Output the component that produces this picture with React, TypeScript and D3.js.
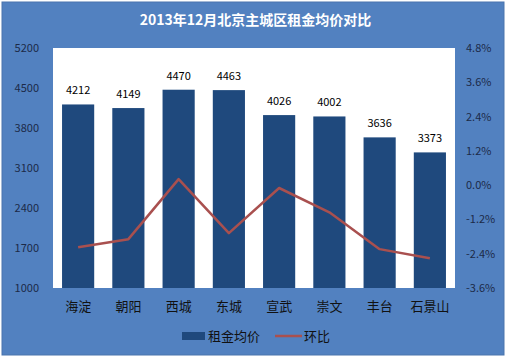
import { useEffect, useRef } from 'react'
import * as d3 from 'd3'

const TITLE = '2013年12月北京主城区租金均价对比'
const districts = ['海淀', '朝阳', '西城', '东城', '宣武', '崇文', '丰台', '石景山']
const avgRent = [4212, 4149, 4470, 4463, 4026, 4002, 3636, 3373]
const momPct = [-2.17, -1.89, 0.21, -1.68, -0.1, -0.95, -2.24, -2.56]
const leftTicks = [1000, 1700, 2400, 3100, 3800, 4500, 5200]
const rightTicks = [-3.6, -2.4, -1.2, 0, 1.2, 2.4, 3.6, 4.8]
const legendLabels = ['租金均价', '环比']

const W = 507
const H = 359
const FONT = '"Noto Sans CJK SC", "Noto Sans", sans-serif'

export default function App() {
  const svgRef = useRef<SVGSVGElement>(null)

  useEffect(() => {
    if (!svgRef.current) return
    const svg = d3.select(svgRef.current)
    svg.selectAll('*').remove()

    const plot = { left: 53, right: 455, top: 48, bottom: 288 }

    // outer panel
    svg.append('rect').attr('width', W).attr('height', H).attr('fill', '#ffffff')
    svg
      .append('rect')
      .attr('x', 2)
      .attr('y', 2)
      .attr('width', 502)
      .attr('height', 353)
      .attr('fill', '#5281c0')
      .attr('stroke', '#4a74ad')
      .attr('stroke-width', 1)

    svg
      .append('text')
      .attr('x', W / 2 + 2)
      .attr('y', 25)
      .attr('text-anchor', 'middle')
      .attr('fill', '#ffffff')
      .attr('font-family', FONT)
      .attr('font-weight', 'bold')
      .attr('font-size', 14)
      .text(TITLE)

    svg
      .append('rect')
      .attr('x', plot.left)
      .attr('y', plot.top)
      .attr('width', plot.right - plot.left)
      .attr('height', plot.bottom - plot.top)
      .attr('fill', '#ffffff')

    const x = d3
      .scaleBand<string>()
      .domain(districts)
      .range([plot.left, plot.right])
      .paddingInner(0.36)
      .paddingOuter(0.18)

    const yL = d3.scaleLinear().domain([1000, 5200]).range([plot.bottom, plot.top])
    const yR = d3.scaleLinear().domain([-3.6, 4.8]).range([plot.bottom, plot.top])

    // bars
    svg
      .append('g')
      .selectAll('rect')
      .data(avgRent)
      .join('rect')
      .attr('x', (_, i) => x(districts[i])!)
      .attr('y', (d) => yL(d))
      .attr('width', x.bandwidth())
      .attr('height', (d) => plot.bottom - yL(d))
      .attr('fill', '#1f497d')

    // value labels
    svg
      .append('g')
      .selectAll('text')
      .data(avgRent)
      .join('text')
      .attr('x', (_, i) => x(districts[i])! + x.bandwidth() / 2)
      .attr('y', (d) => yL(d) - 10)
      .attr('text-anchor', 'middle')
      .attr('font-family', FONT)
      .attr('font-size', 11)
      .attr('fill', '#000000')
      .text((d) => d)

    // line
    const line = d3
      .line<number>()
      .x((_, i) => x(districts[i])! + x.bandwidth() / 2)
      .y((d) => yR(d))
    svg
      .append('path')
      .datum(momPct)
      .attr('d', line)
      .attr('fill', 'none')
      .attr('stroke', '#a9504f')
      .attr('stroke-width', 2.5)
      .attr('stroke-linejoin', 'round')

    // left axis
    const gl = svg.append('g').attr('transform', `translate(${plot.left},0)`)
    gl.call(
      d3
        .axisLeft(yL)
        .tickValues(leftTicks)
        .tickSize(0)
        .tickPadding(14)
        .tickFormat((d) => String(d))
    )
    gl.select('.domain').remove()
    gl.selectAll('text')
      .attr('font-family', FONT)
      .attr('font-size', 11)
      .attr('fill', '#1c2a48')

    // right axis
    const gr = svg.append('g').attr('transform', `translate(${plot.right},0)`)
    gr.call(
      d3
        .axisRight(yR)
        .tickValues(rightTicks)
        .tickSize(0)
        .tickPadding(11)
        .tickFormat((d) => `${(+d).toFixed(1)}%`)
    )
    gr.select('.domain').remove()
    gr.selectAll('text')
      .attr('font-family', FONT)
      .attr('font-size', 11)
      .attr('fill', '#1c2a48')

    // category axis
    const gx = svg.append('g').attr('transform', `translate(0,${plot.bottom})`)
    gx.call(d3.axisBottom(x).tickSize(0).tickPadding(14))
    gx.select('.domain').remove()
    gx.selectAll('text')
      .attr('font-family', FONT)
      .attr('font-size', 13)
      .attr('fill', '#111111')

    // legend
    const lg = svg.append('g').attr('font-family', FONT).attr('font-size', 13)
    lg.append('rect').attr('x', 182).attr('y', 332).attr('width', 23).attr('height', 8).attr('fill', '#1f497d')
    lg.append('text').attr('x', 208).attr('y', 341).attr('fill', '#111111').text(legendLabels[0])
    lg.append('line')
      .attr('x1', 275)
      .attr('x2', 302)
      .attr('y1', 336)
      .attr('y2', 336)
      .attr('stroke', '#a9504f')
      .attr('stroke-width', 2.5)
    lg.append('text').attr('x', 304).attr('y', 341).attr('fill', '#111111').text(legendLabels[1])
  }, [])

  return (
    <svg
      ref={svgRef}
      width={W}
      height={H}
      style={{ position: 'absolute', left: 0, top: 0, display: 'block' }}
    />
  )
}
